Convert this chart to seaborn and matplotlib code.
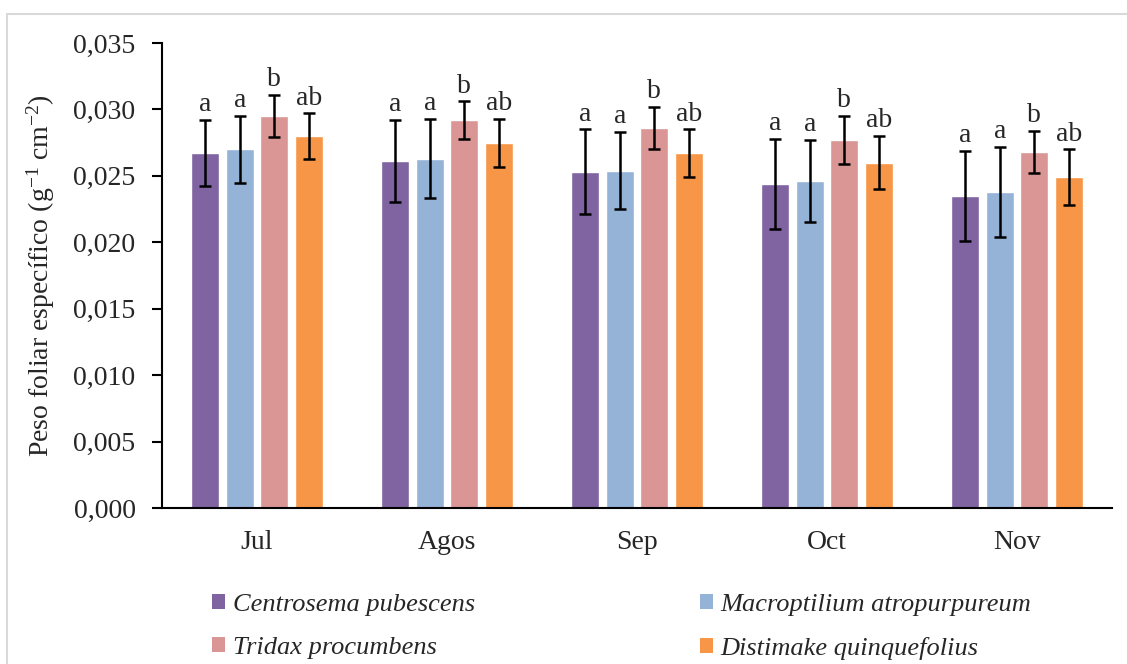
import matplotlib
matplotlib.use("Agg")
import matplotlib.pyplot as plt
from matplotlib.patches import Patch, Rectangle
from matplotlib.ticker import FuncFormatter, FixedLocator
import numpy as np
import pandas as pd
import seaborn as sns

# Monthly specific leaf weight per species (g-1 cm-2), with error bars and letters
months = ["Jul", "Agos", "Sep", "Oct", "Nov"]
species = ["Centrosema pubescens", "Macroptilium atropurpureum",
           "Tridax procumbens", "Distimake quinquefolius"]

centrosema = [0.0267, 0.0261, 0.0253, 0.0244, 0.0235]
macroptilium = [0.0270, 0.0263, 0.0254, 0.0246, 0.0238]
tridax = [0.0295, 0.0292, 0.0286, 0.0277, 0.0268]
distimake = [0.0280, 0.0275, 0.0267, 0.0260, 0.0249]

err_centrosema = [0.0025, 0.0031, 0.0032, 0.0034, 0.0034]
err_macroptilium = [0.0025, 0.0030, 0.0029, 0.0031, 0.0034]
err_tridax = [0.0016, 0.0014, 0.0016, 0.0018, 0.0016]
err_distimake = [0.0017, 0.0018, 0.0018, 0.0020, 0.0021]

letters = ["a", "a", "b", "ab"]
colors = ["#8064A2", "#95B3D7", "#D99694", "#F79646"]

values = [centrosema, macroptilium, tridax, distimake]
errors = [err_centrosema, err_macroptilium, err_tridax, err_distimake]

df = pd.DataFrame({
    "mes": np.tile(months, len(species)),
    "especie": np.repeat(species, len(months)),
    "valor": np.concatenate(values),
})

sns.set_style("white")
plt.rcParams["font.family"] = ["Liberation Serif", "DejaVu Serif"]
plt.rcParams["mathtext.fontset"] = "custom"
plt.rcParams["mathtext.rm"] = "Liberation Serif"
plt.rcParams["mathtext.it"] = "Liberation Serif:italic"

FS = 20

fig = plt.figure(figsize=(11.27, 6.64), dpi=100)
fig.patch.set_facecolor("white")
# light frame around the chart area
fig.patches.append(Rectangle((7 / 1127, -0.1), 1.2, 1.1 - 14 / 664,
                             transform=fig.transFigure, fill=False,
                             edgecolor="#D9D9D9", linewidth=1.5, zorder=0))

ax = fig.add_axes([162 / 1127, 156 / 664, 950 / 1127, 465 / 664])

sns.barplot(data=df, x="mes", y="valor", hue="especie", order=months,
            hue_order=species, palette=colors, width=0.727, gap=0.2,
            errorbar=None, saturation=1, legend=False, ax=ax)

for cont, err in zip(ax.containers, errors):
    xs = [p.get_x() + p.get_width() / 2 for p in cont.patches]
    ys = [p.get_height() for p in cont.patches]
    ax.errorbar(xs, ys, yerr=err, fmt="none", ecolor="black",
                elinewidth=1.8, capsize=4.5, capthick=1.8, zorder=5)

for cont, err, lab in zip(ax.containers, errors, letters):
    for p, e in zip(cont.patches, err):
        ax.text(p.get_x() + p.get_width() / 2, p.get_height() + e + 0.0002,
                lab, ha="center", va="bottom", fontsize=FS)

ax.set_ylim(0, 0.035)
ax.set_xlim(-0.5, len(months) - 0.5)
ax.set_yticks(np.arange(0, 0.0351, 0.005))
ax.yaxis.set_major_formatter(FuncFormatter(lambda v, _: f"{v:.3f}".replace(".", ",")))
ax.xaxis.set_minor_locator(FixedLocator(np.arange(-0.5, len(months), 1.0)))
ax.tick_params(axis="x", which="major", length=0, pad=16, labelsize=FS)
ax.tick_params(axis="x", which="minor", length=7, width=1.5, direction="out", color="black")
ax.tick_params(axis="y", length=7, width=1.5, direction="out", color="black",
               labelsize=FS, pad=12)
ax.tick_params(axis="both", bottom=True, left=True)
for s in ["top", "right"]:
    ax.spines[s].set_visible(False)
for s in ["left", "bottom"]:
    ax.spines[s].set_color("black")
    ax.spines[s].set_linewidth(1.5)
ax.set_xlabel("")
ax.set_ylabel(r"Peso foliar específico (g$^{-1}$ cm$^{-2}$)", fontsize=FS, labelpad=12)
ax.set_facecolor("white")

# legend filled column-wise: reorder so rows read C, M / T, D
order = [0, 2, 1, 3]
handles = [Patch(facecolor=colors[i], edgecolor="none") for i in order]
labels = [species[i] for i in order]
leg = fig.legend(handles, labels, loc="upper left",
                 bbox_to_anchor=(212 / 1127, 1 - 594 / 664), ncol=2,
                 frameon=False, borderpad=0, borderaxespad=0,
                 handlelength=0.5, handleheight=0.5,
                 handletextpad=0.3, columnspacing=8.5, labelspacing=0.78,
                 prop={"family": "Liberation Serif", "style": "italic", "size": 19})

fig.savefig("out.png", dpi=100, facecolor="white")
